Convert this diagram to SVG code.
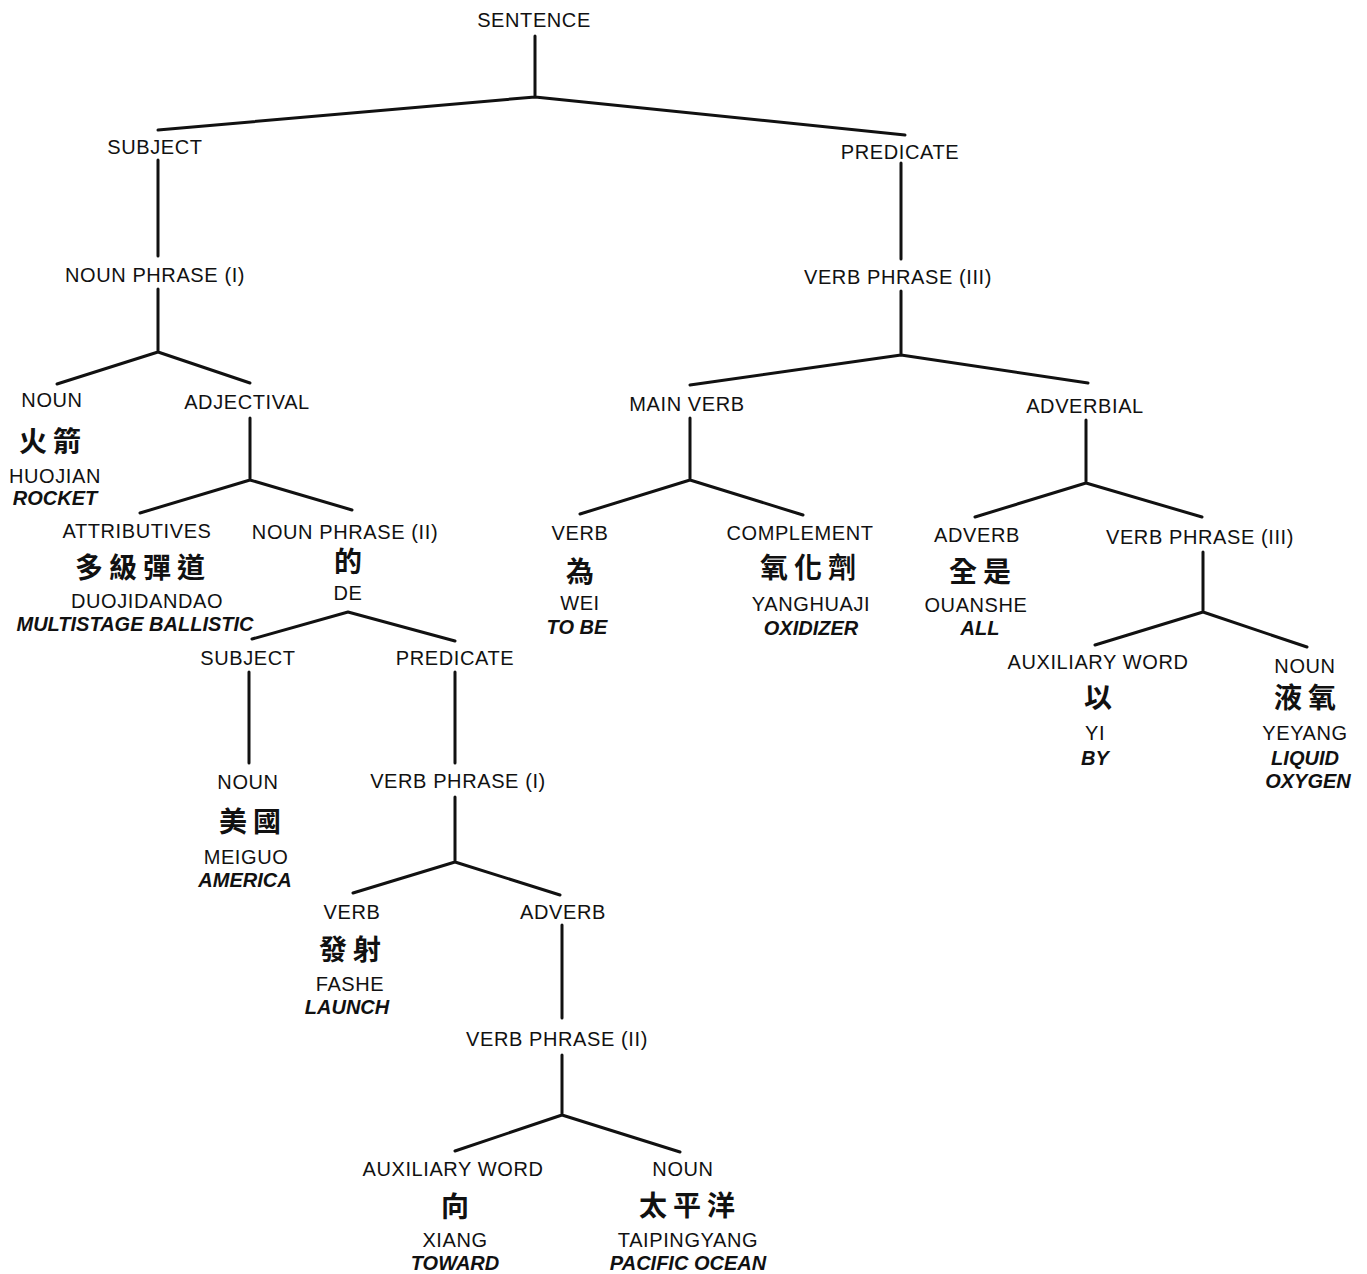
<svg xmlns="http://www.w3.org/2000/svg" width="1367" height="1274" viewBox="0 0 1367 1274">
<style>
.l{font-family:"Liberation Sans",Arial,sans-serif;font-size:20px;fill:#111;text-anchor:middle;letter-spacing:0.6px}
.e{font-family:"Liberation Sans",Arial,sans-serif;font-size:20px;font-weight:bold;font-style:italic;fill:#111;text-anchor:middle}
.c{font-family:"Noto Sans CJK TC","Noto Sans CJK SC",sans-serif;font-size:28px;font-weight:bold;fill:#111;text-anchor:middle;letter-spacing:6px}
.k{stroke:#111;stroke-width:3;fill:none;stroke-linecap:round;stroke-linejoin:round}
</style>
<rect width="1367" height="1274" fill="#fff"/>
<g id="connectors" class="k">
<path d="M535 36V97M158 130L535 97L905 135"/>
<path d="M158 160V256"/>
<path d="M901 163V259"/>
<path d="M158 289V352M57 384L158 352L250 383"/>
<path d="M901 291V355M690 385L901 355L1088 383"/>
<path d="M250 418V480M140 513L250 480L352 510"/>
<path d="M348 612L252 639M348 612L455 641"/>
<path d="M690 418V480M580 514L690 480L803 515"/>
<path d="M1086 420V483M975 517L1086 483L1202 517"/>
<path d="M1203 552V612M1095 645L1203 612L1307 647"/>
<path d="M249 672V763"/>
<path d="M455 672V763"/>
<path d="M455 797V862M353 893L455 862L560 895"/>
<path d="M562 925V1018"/>
<path d="M562 1055V1115M455 1151L562 1115L680 1152"/>
</g>
<g id="sentence"><text class="l" x="534" y="27">SENTENCE</text></g>
<g id="subject"><text class="l" x="155" y="154">SUBJECT</text></g>
<g id="predicate"><text class="l" x="900" y="159">PREDICATE</text></g>
<g id="np1"><text class="l" x="155" y="282">NOUN PHRASE (I)</text></g>
<g id="vp3"><text class="l" x="898" y="284">VERB PHRASE (III)</text></g>
<g id="noun-rocket">
<text class="l" x="52" y="407">NOUN</text>
<text class="c" x="53" y="452">火箭</text>
<text class="l" x="55" y="483">HUOJIAN</text>
<text class="e" x="55" y="505">ROCKET</text>
</g>
<g id="adjectival"><text class="l" x="247" y="409">ADJECTIVAL</text></g>
<g id="mainverb"><text class="l" x="687" y="411">MAIN VERB</text></g>
<g id="adverbial"><text class="l" x="1085" y="413">ADVERBIAL</text></g>
<g id="attributives">
<text class="l" x="137" y="538">ATTRIBUTIVES</text>
<text class="c" x="143" y="578">多級彈道</text>
<text class="l" x="147" y="608">DUOJIDANDAO</text>
<text class="e" x="135" y="631">MULTISTAGE BALLISTIC</text>
</g>
<g id="np2">
<text class="l" x="345" y="539">NOUN PHRASE (II)</text>
<text class="c" x="351" y="572">的</text>
<text class="l" x="348" y="600">DE</text>
</g>
<g id="verb-wei">
<text class="l" x="580" y="540">VERB</text>
<text class="c" x="583" y="582">為</text>
<text class="l" x="580" y="610">WEI</text>
<text class="e" x="577" y="634">TO BE</text>
</g>
<g id="complement">
<text class="l" x="800" y="540">COMPLEMENT</text>
<text class="c" x="811" y="578">氧化劑</text>
<text class="l" x="811" y="611">YANGHUAJI</text>
<text class="e" x="811" y="635">OXIDIZER</text>
</g>
<g id="adverb-all">
<text class="l" x="977" y="542">ADVERB</text>
<text class="c" x="983" y="582">全是</text>
<text class="l" x="976" y="612">OUANSHE</text>
<text class="e" x="980" y="635">ALL</text>
</g>
<g id="vp3b"><text class="l" x="1200" y="544">VERB PHRASE (III)</text></g>
<g id="aux-yi">
<text class="l" x="1098" y="669">AUXILIARY WORD</text>
<text class="c" x="1101" y="708">以</text>
<text class="l" x="1095" y="740">YI</text>
<text class="e" x="1095" y="765">BY</text>
</g>
<g id="noun-yeyang">
<text class="l" x="1305" y="673">NOUN</text>
<text class="c" x="1308" y="708">液氧</text>
<text class="l" x="1305" y="740">YEYANG</text>
<text class="e" x="1305" y="765">LIQUID</text>
<text class="e" x="1308" y="788">OXYGEN</text>
</g>
<g id="subject2"><text class="l" x="248" y="665">SUBJECT</text></g>
<g id="predicate2"><text class="l" x="455" y="665">PREDICATE</text></g>
<g id="noun-meiguo">
<text class="l" x="248" y="789">NOUN</text>
<text class="c" x="253" y="832">美國</text>
<text class="l" x="246" y="864">MEIGUO</text>
<text class="e" x="245" y="887">AMERICA</text>
</g>
<g id="vp1"><text class="l" x="458" y="788">VERB PHRASE (I)</text></g>
<g id="verb-fashe">
<text class="l" x="352" y="919">VERB</text>
<text class="c" x="353" y="960">發射</text>
<text class="l" x="350" y="991">FASHE</text>
<text class="e" x="347" y="1014">LAUNCH</text>
</g>
<g id="adverb2"><text class="l" x="563" y="919">ADVERB</text></g>
<g id="vp2"><text class="l" x="557" y="1046">VERB PHRASE (II)</text></g>
<g id="aux-xiang">
<text class="l" x="453" y="1176">AUXILIARY WORD</text>
<text class="c" x="458" y="1217">向</text>
<text class="l" x="455" y="1247">XIANG</text>
<text class="e" x="455" y="1270">TOWARD</text>
</g>
<g id="noun-taipingyang">
<text class="l" x="683" y="1176">NOUN</text>
<text class="c" x="690" y="1216">太平洋</text>
<text class="l" x="688" y="1247">TAIPINGYANG</text>
<text class="e" x="688" y="1270">PACIFIC OCEAN</text>
</g>
</svg>
